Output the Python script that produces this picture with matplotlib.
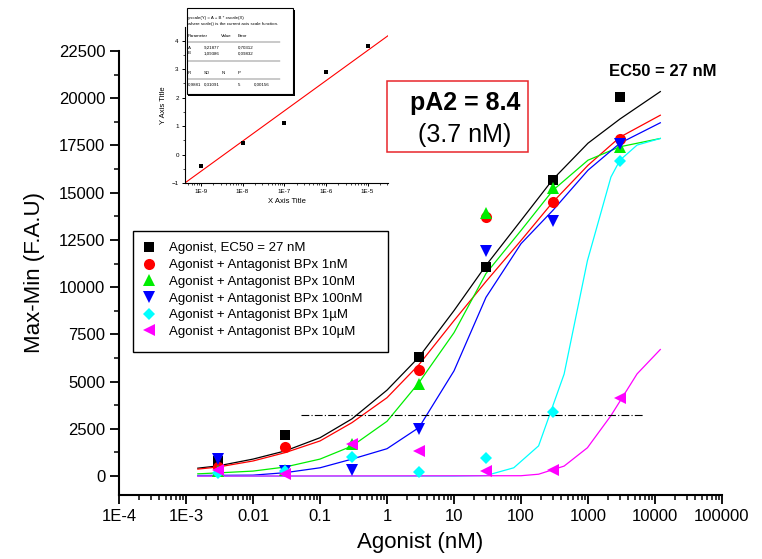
#!/usr/bin/env python3
"""Agonist dose-response curves with antagonist BPx (Schild inset)."""

import matplotlib
matplotlib.use('Agg')
from matplotlib import pyplot as plt
from matplotlib.patches import Rectangle
from matplotlib.lines import Line2D
from matplotlib.ticker import FixedLocator, LogLocator, NullFormatter
import numpy as np


# Measured points (agonist concentration in nM, signal in F.A.U).
DOSE = [0.003, 0.03, 0.3, 3, 30, 300, 3000]
AGONIST = [800, 2180, None, 6320, 11090, 15660, 20060]
BPX_1NM = [500, 1540, None, 5630, 13700, 14490, 17830]
BPX_10NM = [270, 300, 1700, 4880, 13900, 15230, 17410]
BPX_100NM = [900, 250, 320, 2490, 11890, 13480, 17600]
BPX_1UM = [150, 270, 1000, 210, 950, 3400, 16700]
BPX_10UM = [320, 100, 1700, 1330, 260, 320, 4140]

LABELS = ['Agonist, EC50 = 27 nM',
          'Agonist + Antagonist BPx 1nM',
          'Agonist + Antagonist BPx 10nM',
          'Agonist + Antagonist BPx 100nM',
          'Agonist + Antagonist BPx 1\u00b5M',
          'Agonist + Antagonist BPx 10\u00b5M']

# Fitted curves.
CURVE_X = [0.0015, 0.003, 0.01, 0.03, 0.1, 0.3, 1, 3, 10, 30, 100, 300,
           1000, 3000, 12000]
FIT_AGONIST = [420, 540, 900, 1330, 2030, 3030, 4550, 6300, 8760, 11150,
               13530, 15710, 17620, 18900, 20350]
FIT_1NM = [370, 480, 800, 1240, 1860, 2830, 4150, 5900, 8230, 10300,
           12470, 14510, 16450, 17940, 19100]
FIT_10NM = [120, 170, 265, 480, 900, 1590, 2900, 4950, 7590, 10720,
            13000, 15130, 16720, 17430, 17870]
FIT_100NM = [30, 40, 50, 180, 440, 900, 1450, 2570, 5570, 9460,
             12300, 14070, 16190, 17620, 18700]
CYAN_X = [0.0015, 10, 30, 78, 183, 440, 980, 2200, 3000, 5400, 12000]
FIT_1UM = [0, 0, 30, 440, 1600, 5400, 11400, 15830, 16720, 17520, 17870]
MAG_X = [0.0015, 100, 183, 440, 980, 2200, 5400, 12000]
FIT_10UM = [0, 20, 100, 530, 1500, 3200, 5410, 6700]

LEVEL_X = [0.052, 6700]
LEVEL_Y = [3240, 3240]

X_TICKS = [1e-4, 1e-3, 1e-2, 1e-1, 1, 10, 100, 1000, 1e4, 1e5]
X_TICKLABELS = ['1E-4', '1E-3', '0.01', '0.1', '1', '10', '100', '1000',
                '10000', '100000']

# Schild inset.
SCHILD_X = [1e-9, 1e-8, 1e-7, 1e-6, 1e-5]
SCHILD_Y = [-0.41, 0.39, 1.12, 2.89, 3.82]
SCHILD_LINE_X = [3.7e-10, 3.2e-5]
SCHILD_LINE_Y = [-1.05, 4.19]
INSET_XTICKLABELS = ['1E-9', '1E-8', '1E-7', '1E-6', '1E-5']


def main():
    plt.rcParams['font.family'] = ['Liberation Sans', 'DejaVu Sans']
    fig = plt.figure(figsize=(7.62, 5.59), dpi=100)
    ax = fig.add_axes([0.1562, 0.1145, 0.7913, 0.7943])

    colors = ['black', '#ff0000', '#00ee00', '#0000ff', '#00ffff', '#ff00ff']
    markers = ['s', 'o', '^', 'v', 'D', '<']
    sizes = [7, 8, 8.5, 8.5, 6.5, 8.5]

    curves = [(CURVE_X, FIT_AGONIST), (CURVE_X, FIT_1NM), (CURVE_X, FIT_10NM),
              (CURVE_X, FIT_100NM), (CYAN_X, FIT_1UM), (MAG_X, FIT_10UM)]
    for (cx, cy), col in zip(curves, colors):
        ax.plot(cx, cy, color=col, lw=0.9, zorder=2)

    ax.plot(LEVEL_X, LEVEL_Y, color='black', lw=0.8,
            linestyle=(0, (7, 2, 1, 2)), zorder=2)

    series = [AGONIST, BPX_1NM, BPX_10NM, BPX_100NM, BPX_1UM, BPX_10UM]
    handles = []
    for vals, col, mk, ms, lab in zip(series, colors, markers, sizes, LABELS):
        xs = [d for d, v in zip(DOSE, vals) if v is not None]
        ys = [v for v in vals if v is not None]
        ax.plot(xs, ys, linestyle='none', marker=mk, ms=ms, color=col,
                markeredgewidth=0, zorder=3)
        handles.append(Line2D([], [], linestyle='none', marker=mk, ms=ms,
                              color=col, markeredgewidth=0, label=lab))

    ax.set_xscale('log')
    ax.set_xlim(1e-4, 1e5)
    ax.set_ylim(-1000, 22500)
    ax.xaxis.set_major_locator(FixedLocator(X_TICKS))
    ax.set_xticklabels(X_TICKLABELS)
    ax.xaxis.set_minor_locator(LogLocator(base=10, subs=np.arange(2, 10),
                                          numticks=20))
    ax.xaxis.set_minor_formatter(NullFormatter())
    ax.set_yticks(np.arange(0, 22501, 2500))
    ax.set_yticks(np.arange(1250, 22500, 2500), minor=True)
    for side in ('top', 'right'):
        ax.spines[side].set_visible(False)
    for side in ('left', 'bottom'):
        ax.spines[side].set_linewidth(1.5)
    ax.tick_params(which='major', direction='out', length=6.5, width=1.3,
                   labelsize=12)
    ax.tick_params(which='minor', direction='out', length=3.5, width=1.1)
    ax.set_xlabel('Agonist (nM)', fontsize=16, labelpad=6)
    ax.set_ylabel('Max-Min (F.A.U)', fontsize=16, labelpad=10)

    # Legend without its own frame; the box is drawn separately so it can be
    # wider than the text, as in the original.
    ax.legend(handles=handles, loc='upper left',
              bbox_to_anchor=(0.0232, 0.590), borderaxespad=0,
              fontsize=9.5, frameon=False, labelspacing=0.34,
              handlelength=1.0, handletextpad=1.0, borderpad=0.7)
    fig.patches.append(Rectangle((133 / 762, 1 - 352 / 559), 255 / 762,
                                 121 / 559, transform=fig.transFigure,
                                 fill=False, edgecolor='black', lw=1.0,
                                 zorder=4))

    # pA2 box and EC50 note.
    fig.patches.append(Rectangle((387 / 762, 1 - 152 / 559), 141 / 762,
                                 71 / 559, transform=fig.transFigure,
                                 fill=False, edgecolor='#e8262b', lw=1.1))
    fig.text(465 / 762, 1 - 103 / 559, 'pA2 = 8.4', fontsize=18,
             fontweight='bold', ha='center', va='center')
    fig.text(465 / 762, 1 - 135 / 559, '(3.7 nM)', fontsize=18,
             ha='center', va='center')
    fig.text(663 / 762, 1 - 71 / 559, 'EC50 = 27 nM', fontsize=12,
             fontweight='bold', ha='center', va='center')

    # Schild plot inset.
    ins = fig.add_axes([0.2428, 0.6726, 0.2664, 0.2791])
    ins.set_facecolor('white')
    ins.plot(SCHILD_LINE_X, SCHILD_LINE_Y, color='#ff0000', lw=0.8)
    ins.plot(SCHILD_X, SCHILD_Y, linestyle='none', marker='s', ms=3,
             color='black', markeredgewidth=0)
    ins.set_xscale('log')
    ins.set_xlim(10 ** -9.38, 10 ** -4.51)
    ins.set_ylim(-1, 4.48)
    ins.xaxis.set_major_locator(FixedLocator(SCHILD_X))
    ins.set_xticklabels(INSET_XTICKLABELS)
    ins.xaxis.set_minor_locator(LogLocator(base=10, subs=np.arange(2, 10),
                                           numticks=20))
    ins.xaxis.set_minor_formatter(NullFormatter())
    ins.set_yticks(np.arange(-1, 5))
    ins.set_yticks(np.arange(-0.5, 4.5, 1), minor=True)
    for side in ('top', 'right'):
        ins.spines[side].set_visible(False)
    for side in ('left', 'bottom'):
        ins.spines[side].set_linewidth(0.8)
    ins.tick_params(which='major', direction='out', length=2.5, width=0.7,
                    labelsize=4.5, pad=2)
    ins.tick_params(which='minor', direction='out', length=1.5, width=0.5)
    ins.set_xlabel('X Axis Title', fontsize=5.5, labelpad=3)
    ins.set_ylabel('Y Axis Title', fontsize=5.5, labelpad=3)

    # Origin-style fit report box.
    x0, y0, x1, y1 = 186.7, 8.3, 293.3, 94.0
    fig.patches.append(Rectangle((x0 / 762 + 0.002, 1 - y1 / 559 - 0.003),
                                 (x1 - x0) / 762, (y1 - y0) / 559,
                                 transform=fig.transFigure, facecolor='black',
                                 edgecolor='black', lw=0, zorder=5))
    fig.patches.append(Rectangle((x0 / 762, 1 - y1 / 559), (x1 - x0) / 762,
                                 (y1 - y0) / 559, transform=fig.transFigure,
                                 facecolor='white', edgecolor='black',
                                 lw=0.8, zorder=6))
    rows = [
        (18.3, [(187.5, 'yscale(Y) = A + B * xscale(X)')]),
        (24.0, [(187.5, 'where scale() is the current axis scale function.')]),
        (36.0, [(187.5, 'Parameter'), (220.5, 'Value'), (237.5, 'Error')]),
        (47.7, [(187.5, 'A'), (204.0, '9,21877'), (237.5, '0,70312')]),
        (53.3, [(187.5, 'B'), (204.0, '1,09386'), (237.5, '0,09832')]),
        (72.7, [(187.5, 'R'), (204.0, 'SD'), (221.5, 'N'), (238.0, 'P')]),
        (84.7, [(187.5, '0,9881'), (204.0, '0,31091'), (238.0, '5'),
                (254.0, '0,00156')]),
    ]
    for ypix, items in rows:
        for xpix, txt in items:
            fig.text(xpix / 762, 1 - ypix / 559, txt, fontsize=3.2,
                     ha='left', va='center', zorder=7)
    for ypix in (42.3, 61.0, 79.0):
        fig.lines.append(Line2D([187.5 / 762, 280 / 762],
                                [1 - ypix / 559, 1 - ypix / 559],
                                transform=fig.transFigure, color='black',
                                lw=0.3, zorder=7))

    fig.savefig('out.png', dpi=100)


if __name__ == '__main__':
    main()
